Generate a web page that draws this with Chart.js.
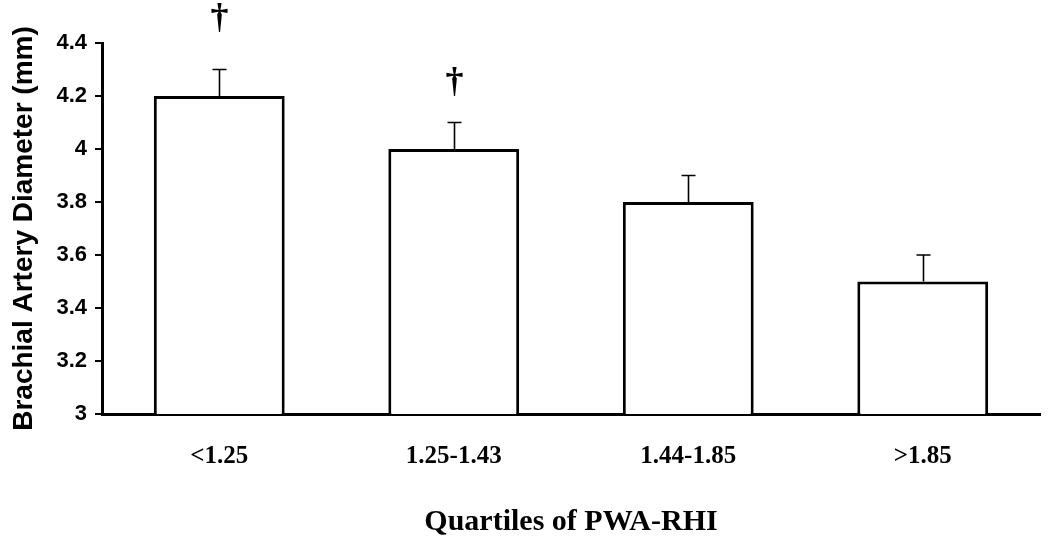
<!DOCTYPE html>
<html>
<head>
<meta charset="utf-8">
<script src="https://cdn.jsdelivr.net/npm/chart.js@4"></script>
<style>
  html, body { margin: 0; padding: 0; background: #fff; }
  #wrap { width: 1050px; height: 543px; }
</style>
</head>
<body>
<div id="wrap"><canvas id="c" width="1050" height="543"></canvas></div>
<script>
const categories = ['<1.25', '1.25-1.43', '1.44-1.85', '>1.85'];
const means = [4.2, 4.0, 3.8, 3.5];
const errorsUp = [0.1, 0.1, 0.1, 0.1];
const markers = ['†', '†', '', ''];
const markerValues = [4.49, 4.25, null, null];
const yTicks = [3, 3.2, 3.4, 3.6, 3.8, 4, 4.2, 4.4];

const errorBarPlugin = {
  id: 'errorBars',
  afterDatasetsDraw(chart) {
    const ctx = chart.ctx;
    const meta = chart.getDatasetMeta(0);
    const y = chart.scales.y;
    ctx.save();
    ctx.strokeStyle = '#000';
    ctx.lineWidth = 1.6;
    meta.data.forEach((bar, i) => {
      const x = Math.round(bar.x) + 0.5;
      const yTop = y.getPixelForValue(means[i] + errorsUp[i]);
      const yBase = y.getPixelForValue(means[i]);
      ctx.beginPath();
      ctx.moveTo(x, yBase);
      ctx.lineTo(x, yTop);
      ctx.moveTo(x - 7, yTop);
      ctx.lineTo(x + 7, yTop);
      ctx.stroke();
      if (markers[i]) {
        ctx.fillStyle = '#000';
        ctx.font = 'bold 36px "Liberation Serif", serif';
        ctx.textAlign = 'center';
        ctx.textBaseline = 'middle';
        ctx.fillText(markers[i], x, y.getPixelForValue(markerValues[i]));
      }
    });
    ctx.restore();
  }
};

new Chart(document.getElementById('c'), {
  type: 'bar',
  data: {
    labels: categories,
    datasets: [{
      data: means,
      backgroundColor: '#ffffff',
      borderColor: '#000000',
      borderWidth: 3,
      borderSkipped: false,
      categoryPercentage: 1.0,
      barPercentage: 0.558
    }]
  },
  options: {
    responsive: false,
    animation: false,
    devicePixelRatio: 1,
    layout: { padding: { top: 43, right: 10, left: 0, bottom: 0 } },
    plugins: { legend: { display: false }, tooltip: { enabled: false } },
    scales: {
      x: {
        grid: { display: false, drawTicks: false },
        border: { display: true, color: '#000', width: 3 },
        ticks: {
          color: '#000',
          padding: 28,
          font: { family: '"Liberation Serif", serif', size: 25, weight: 'bold' }
        },
        title: {
          display: true,
          text: 'Quartiles of PWA-RHI',
          color: '#000',
          font: { family: '"Liberation Serif", serif', size: 30, weight: 'bold' },
          padding: { top: 0, bottom: 3 }
        },
        afterFit(scale) { scale.height = 129; }
      },
      y: {
        min: 3,
        max: 4.4,
        afterBuildTicks(scale) { scale.ticks = yTicks.map(v => ({ value: v })); },
        grid: { drawOnChartArea: false, drawTicks: true, tickLength: 7, color: '#000', lineWidth: 2 },
        border: { display: true, color: '#000', width: 3 },
        ticks: {
          color: '#000',
          padding: 8,
          font: { family: '"Liberation Sans", Arial, sans-serif', size: 22, weight: 'bold' },
          callback: (v) => String(Math.round(v * 10) / 10)
        },
        title: {
          display: true,
          text: 'Brachial Artery Diameter (mm)',
          color: '#000',
          font: { family: '"Liberation Sans", Arial, sans-serif', size: 28, weight: 'bold' },
          padding: { top: 7, bottom: 0 }
        },
        afterFit(scale) { scale.width = 102; }
      }
    }
  },
  plugins: [errorBarPlugin]
});
</script>
</body>
</html>
